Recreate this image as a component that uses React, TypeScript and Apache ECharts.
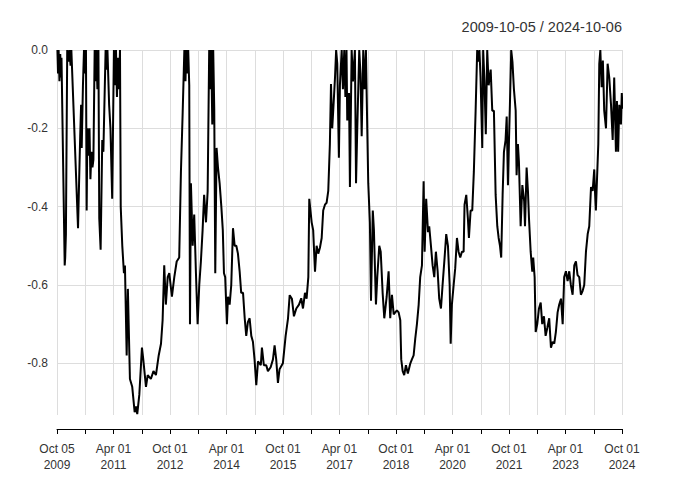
import React, { useEffect, useRef } from "react";
import * as echarts from "echarts";

const titleText = "2009-10-05 / 2024-10-06";

const tickLabels = [
  "Oct 05\n2009", "Apr 01\n2011", "Oct 01\n2012", "Apr 01\n2014", "Oct 01\n2015", "Apr 01\n2017",
  "Oct 01\n2018", "Apr 01\n2020", "Oct 01\n2021", "Apr 01\n2023", "Oct 01\n2024",
];

const yTicks = [-0.8, -0.6, -0.4, -0.2, 0.0];

const dates = [
  "2009-10-05","2009-10-11","2009-10-17","2009-10-25","2009-11-02","2009-11-09","2009-11-14","2009-12-15","2009-12-20","2009-12-27",
  "2010-01-09","2010-01-21","2010-01-30","2010-02-10","2010-02-17","2010-04-22","2010-05-01","2010-05-13","2010-05-22","2010-05-28",
  "2010-06-09","2010-06-19","2010-06-28","2010-07-08","2010-07-15","2010-07-22","2010-08-02","2010-08-12","2010-08-21","2010-08-31",
  "2010-09-10","2010-09-19","2010-10-01","2010-10-09","2010-10-18","2010-10-28","2010-11-07","2010-11-15","2010-11-28","2010-12-14",
  "2010-12-25","2011-01-16","2011-01-24","2011-02-03","2011-02-18","2011-03-02","2011-03-19","2011-04-05","2011-04-15","2011-04-25",
  "2011-05-04","2011-05-14","2011-05-24","2011-06-03","2011-06-10","2011-06-25","2011-07-11","2011-07-21","2011-08-07","2011-08-19",
  "2011-09-08","2011-09-30","2011-10-24","2011-11-06","2011-11-18","2011-12-08","2012-01-03","2012-01-16","2012-02-11","2012-02-27",
  "2012-03-29","2012-04-23","2012-05-17","2012-06-13","2012-07-05","2012-07-21","2012-08-06","2012-08-22","2012-09-09","2012-09-24",
  "2012-10-20","2012-11-12","2012-12-05","2012-12-30","2013-01-16","2013-02-02","2013-02-17","2013-02-27","2013-03-07","2013-03-16",
  "2013-03-26","2013-04-05","2013-04-12","2013-04-21","2013-05-08","2013-05-23","2013-06-09","2013-06-25","2013-07-11","2013-07-27",
  "2013-08-13","2013-08-28","2013-09-15","2013-10-01","2013-10-16","2013-10-26","2013-11-05","2013-11-15","2013-11-24","2013-12-04",
  "2013-12-14","2013-12-27","2014-01-10","2014-01-26","2014-02-11","2014-02-24","2014-03-07","2014-03-19","2014-04-05","2014-04-15",
  "2014-05-01","2014-05-17","2014-06-03","2014-06-19","2014-07-05","2014-07-21","2014-08-07","2014-08-22","2014-09-09","2014-09-25",
  "2014-10-10","2014-10-26","2014-11-12","2014-11-28","2014-12-14","2014-12-30","2015-01-16","2015-02-02","2015-02-27","2015-03-10",
  "2015-03-29","2015-04-21","2015-05-07","2015-06-03","2015-06-25","2015-07-11","2015-07-27","2015-08-13","2015-08-29","2015-09-30",
  "2015-10-27","2015-11-19","2015-12-05","2015-12-27","2016-01-16","2016-02-08","2016-03-04","2016-03-26","2016-04-12","2016-05-01",
  "2016-05-17","2016-06-03","2016-06-12","2016-07-05","2016-07-20","2016-08-07","2016-08-23","2016-09-08","2016-09-24","2016-10-11",
  "2016-10-26","2016-11-12","2016-11-28","2016-12-14","2016-12-30","2017-01-10","2017-01-22","2017-02-01","2017-02-17","2017-02-27",
  "2017-03-10","2017-03-26","2017-04-05","2017-04-22","2017-05-04","2017-05-17","2017-05-28","2017-06-08","2017-06-15","2017-07-02",
  "2017-07-11","2017-07-28","2017-08-10","2017-08-29","2017-09-09","2017-09-21","2017-10-10","2017-10-22","2017-11-03","2017-11-18",
  "2017-11-30","2017-12-14","2017-12-21","2018-01-06","2018-01-22","2018-02-02","2018-02-18","2018-02-28","2018-03-20","2018-04-02",
  "2018-04-21","2018-05-05","2018-05-24","2018-06-09","2018-07-02","2018-07-21","2018-08-06","2018-08-23","2018-09-09","2018-09-24",
  "2018-10-10","2018-10-27","2018-11-12","2018-11-21","2018-12-05","2018-12-20","2019-01-06","2019-01-25","2019-02-17","2019-03-03",
  "2019-03-20","2019-04-05","2019-04-21","2019-05-08","2019-05-23","2019-06-09","2019-06-25","2019-07-05","2019-07-20","2019-08-07",
  "2019-08-19","2019-09-05","2019-09-21","2019-10-07","2019-10-23","2019-11-09","2019-11-24","2019-12-11","2019-12-27","2020-01-16",
  "2020-02-01","2020-02-17","2020-03-04","2020-03-14","2020-03-26","2020-04-12","2020-04-27","2020-05-14","2020-05-30","2020-06-15",
  "2020-07-01","2020-07-18","2020-07-27","2020-08-13","2020-08-29","2020-09-08","2020-09-24","2020-10-10","2020-10-26","2020-11-12",
  "2020-11-27","2020-12-09","2020-12-19","2020-12-30","2021-01-16","2021-01-25","2021-02-06","2021-02-18","2021-03-03","2021-03-17",
  "2021-04-06","2021-04-21","2021-05-07","2021-05-24","2021-06-09","2021-06-22","2021-07-05","2021-07-17","2021-07-31","2021-08-13",
  "2021-08-29","2021-09-09","2021-09-21","2021-09-30","2021-10-10","2021-10-23","2021-11-04","2021-11-18","2021-12-05","2021-12-14",
  "2021-12-27","2022-01-06","2022-01-23","2022-02-08","2022-02-24","2022-03-04","2022-03-20","2022-04-02","2022-04-12","2022-04-28",
  "2022-05-14","2022-05-23","2022-06-06","2022-06-16","2022-07-01","2022-07-18","2022-08-04","2022-08-19","2022-09-05","2022-09-21",
  "2022-10-07","2022-10-26","2022-11-12","2022-11-28","2022-12-14","2022-12-30","2023-01-16","2023-02-01","2023-02-17","2023-03-04",
  "2023-03-19","2023-04-05","2023-04-21","2023-05-07","2023-05-23","2023-06-09","2023-06-25","2023-07-11","2023-07-27","2023-08-13",
  "2023-08-29","2023-09-15","2023-09-30","2023-10-17","2023-11-03","2023-11-18","2023-12-05","2023-12-21","2024-01-06","2024-01-13",
  "2024-01-22","2024-02-02","2024-02-14","2024-02-23","2024-03-04","2024-03-17","2024-03-29","2024-04-11","2024-04-28","2024-05-14",
  "2024-05-30","2024-06-16","2024-07-02","2024-07-17","2024-08-03","2024-08-13","2024-08-25","2024-09-05","2024-09-21","2024-09-29",
  "2024-10-06",
];

const drawdown = [
  0,-0.06,0,-0.08,-0.01,-0.07,-0.02,-0.55,-0.53,-0.47,
  0,-0.03,0,-0.04,0,-0.455,-0.35,-0.22,-0.14,-0.25,
  -0.09,0,-0.06,0,-0.41,-0.2,-0.27,-0.2,-0.33,-0.26,
  -0.3,-0.28,0,-0.08,0,-0.1,0,-0.43,-0.51,-0.23,
  -0.26,0,-0.05,0,-0.14,-0.2,-0.38,0,-0.09,0,
  -0.12,-0.02,-0.1,0,-0.4,-0.5,-0.57,-0.55,-0.78,-0.61,
  -0.84,-0.86,-0.925,-0.91,-0.93,-0.88,-0.76,-0.79,-0.86,-0.83,
  -0.84,-0.82,-0.83,-0.78,-0.75,-0.69,-0.55,-0.65,-0.58,-0.57,
  -0.63,-0.58,-0.54,-0.53,-0.31,-0.16,0,-0.08,0,-0.06,
  0,-0.09,-0.7,-0.34,-0.5,-0.42,-0.57,-0.7,-0.6,-0.54,
  -0.46,-0.37,-0.44,-0.36,0,-0.1,0,-0.19,0,-0.15,
  -0.57,-0.25,-0.3,-0.34,-0.4,-0.46,-0.57,-0.58,-0.7,-0.63,
  -0.65,-0.6,-0.455,-0.5,-0.5,-0.52,-0.566,-0.62,-0.62,-0.685,
  -0.73,-0.695,-0.685,-0.73,-0.745,-0.79,-0.856,-0.795,-0.805,-0.76,
  -0.805,-0.805,-0.82,-0.81,-0.79,-0.754,-0.79,-0.85,-0.815,-0.8,
  -0.73,-0.685,-0.626,-0.635,-0.68,-0.66,-0.65,-0.634,-0.66,-0.62,
  -0.635,-0.58,-0.38,-0.44,-0.46,-0.566,-0.5,-0.52,-0.505,-0.48,
  -0.41,-0.395,-0.39,-0.36,-0.24,-0.087,-0.2,-0.155,-0.07,0,
  -0.035,-0.275,-0.09,0,-0.1,0,-0.12,0,-0.18,-0.11,
  -0.35,0,-0.08,0,-0.34,-0.2,0,-0.06,-0.22,0,
  -0.1,0,-0.11,-0.34,-0.44,-0.64,-0.41,-0.46,-0.65,-0.58,
  -0.5,-0.515,-0.62,-0.685,-0.63,-0.565,-0.685,-0.625,-0.675,-0.67,
  -0.665,-0.67,-0.69,-0.79,-0.82,-0.83,-0.805,-0.826,-0.8,-0.79,
  -0.78,-0.737,-0.7,-0.65,-0.58,-0.55,-0.335,-0.515,-0.38,-0.465,
  -0.45,-0.5,-0.55,-0.58,-0.515,-0.565,-0.635,-0.66,-0.6,-0.53,
  -0.47,-0.5,-0.6,-0.75,-0.65,-0.6,-0.557,-0.48,-0.515,-0.53,
  -0.515,-0.515,-0.395,-0.37,-0.43,-0.48,-0.41,-0.41,-0.31,-0.155,
  0,-0.03,0,-0.07,-0.25,0,-0.08,-0.215,0,-0.09,
  -0.05,-0.155,-0.155,-0.37,-0.45,-0.48,-0.5,-0.53,-0.37,-0.26,
  -0.23,-0.17,-0.345,-0.24,-0.14,0,-0.03,-0.1,-0.155,-0.32,
  -0.24,-0.285,-0.45,-0.345,-0.385,-0.45,-0.3,-0.36,-0.43,-0.515,
  -0.566,-0.53,-0.58,-0.72,-0.7,-0.66,-0.645,-0.7,-0.68,-0.73,
  -0.71,-0.685,-0.76,-0.745,-0.75,-0.72,-0.67,-0.65,-0.635,-0.7,
  -0.58,-0.565,-0.59,-0.565,-0.6,-0.625,-0.55,-0.54,-0.575,-0.58,
  -0.625,-0.615,-0.6,-0.515,-0.47,-0.45,-0.35,-0.36,-0.305,-0.36,
  -0.41,-0.33,-0.24,-0.035,0,-0.095,-0.027,-0.155,-0.2,-0.035,
  -0.07,-0.14,-0.23,-0.07,-0.26,-0.13,-0.26,-0.14,-0.19,-0.11,
  -0.15,
];

// months elapsed since 2009-10-01
function monthsSinceStart(s: string): number {
  const [y, m, d] = s.split("-").map(Number);
  const dim = new Date(y, m, 0).getDate();
  return (y - 2009) * 12 + (m - 10) + (d - 1) / dim;
}

const FONT = "Liberation Sans, Arial, Helvetica, sans-serif";

export default function App() {
  const ref = useRef<HTMLDivElement>(null);

  useEffect(() => {
    if (!ref.current) return;
    const chart = echarts.init(ref.current, undefined, { renderer: "svg" });
    const seriesData = dates.map((d, i) => [monthsSinceStart(d), drawdown[i]]);
    chart.setOption({
      animation: false,
      backgroundColor: "#ffffff",
      title: {
        text: titleText,
        right: 53,
        top: 14,
        textStyle: { fontFamily: FONT, fontSize: 14.5, fontWeight: "normal", color: "#333333" },
      },
      grid: { left: 57, right: 58, top: 50, bottom: 68, containLabel: false },
      xAxis: {
        type: "value",
        position: "bottom",
        min: 0,
        max: 180,
        interval: 9,
        offset: 14,
        axisLine: { show: true, onZero: false, lineStyle: { color: "#000000", width: 1 } },
        axisTick: { show: true, length: 5, lineStyle: { color: "#000000", width: 1 } },
        axisLabel: {
          margin: 12,
          fontFamily: FONT,
          fontSize: 12,
          color: "#333333",
          lineHeight: 16,
          formatter: (v: number) => {
            const r = Math.round(v);
            if (r % 18 !== 0) return "";
            return tickLabels[r / 18] ?? "";
          },
        },
        splitLine: { show: true, lineStyle: { color: "#dddddd", width: 1 } },
      },
      yAxis: {
        type: "value",
        min: -0.932,
        max: 0,
        splitNumber: 5,
        axisLine: { show: false },
        axisTick: { show: false },
        axisLabel: {
          showMinLabel: false,
          margin: 9,
          fontFamily: FONT,
          fontSize: 12,
          color: "#333333",
          formatter: (v: number) => {
            const t = yTicks.find((y) => Math.abs(y - v) < 1e-6);
            return t === undefined ? "" : t.toFixed(1);
          },
        },
        splitLine: { show: true, showMinLine: false, lineStyle: { color: "#dddddd", width: 1 } },
      },
      series: [
        {
          type: "line",
          data: seriesData,
          showSymbol: false,
          symbol: "none",
          clip: true,
          lineStyle: { color: "#000000", width: 2 },
        },
      ],
    });
    return () => chart.dispose();
  }, []);

  return (
    <div
      ref={ref}
      style={{ position: "fixed", left: 0, top: 0, width: 680, height: 483, background: "#fff" }}
    />
  );
}
